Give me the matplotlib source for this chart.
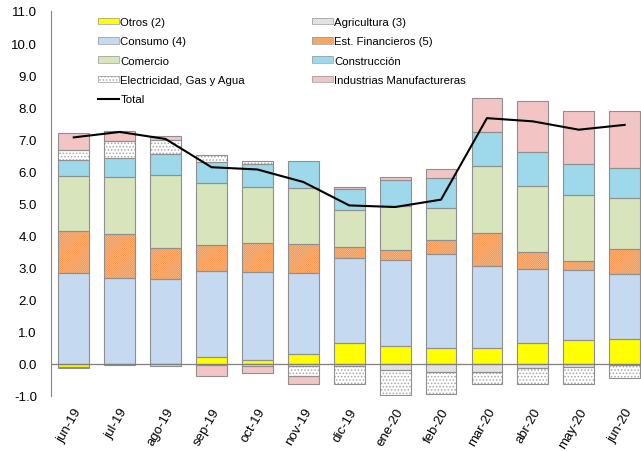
import numpy as np
import matplotlib.pyplot as plt
from matplotlib.patches import Patch
from matplotlib.lines import Line2D

plt.rcParams['font.family'] = ['Liberation Sans', 'DejaVu Sans']
plt.rcParams['axes.unicode_minus'] = False
plt.rcParams['hatch.linewidth'] = 0.7

meses = ['jun-19', 'jul-19', 'ago-19', 'sep-19', 'oct-19', 'nov-19', 'dic-19',
         'ene-20', 'feb-20', 'mar-20', 'abr-20', 'may-20', 'jun-20']

# contribuciones por sector (puntos porcentuales)
otros = [-0.10, -0.03, 0.00, 0.21, 0.12, 0.30, 0.64, 0.57, 0.51, 0.51, 0.64, 0.75, 0.78]
agricultura = [-0.03, 0.00, -0.07, -0.02, -0.07, -0.08, -0.07, -0.20, -0.24, -0.24, -0.12, -0.10, -0.02]
consumo = [2.82, 2.69, 2.66, 2.69, 2.73, 2.52, 2.66, 2.67, 2.91, 2.54, 2.31, 2.17, 2.01]
est_financieros = [1.32, 1.35, 0.96, 0.81, 0.91, 0.91, 0.35, 0.31, 0.44, 1.04, 0.54, 0.30, 0.80]
comercio = [1.71, 1.79, 2.26, 1.93, 1.76, 1.76, 1.16, 1.37, 1.01, 2.09, 2.07, 2.06, 1.57]
construccion = [0.52, 0.59, 0.67, 0.65, 0.72, 0.82, 0.65, 0.80, 0.93, 1.05, 1.03, 0.95, 0.95]
electricidad = [0.31, 0.54, 0.44, 0.21, 0.07, -0.30, -0.55, -0.78, -0.69, -0.40, -0.50, -0.52, -0.42]
industrias = [0.52, 0.31, 0.10, -0.36, -0.22, -0.26, 0.06, 0.11, 0.26, 1.05, 1.59, 1.66, 1.76]
total = [7.06, 7.23, 7.01, 6.13, 6.06, 5.67, 4.94, 4.89, 5.12, 7.66, 7.56, 7.30, 7.45]

series = [
    ('Otros (2)', otros, '#FFFF00', None, '#FFFF00'),
    ('Agricultura (3)', agricultura, '#F4F4F4', '/' * 14, '#D6D6D6'),
    ('Consumo (4)', consumo, '#C5D9F1', None, '#C5D9F1'),
    ('Est. Financieros (5)', est_financieros, '#FCCDA4', '/' * 16, '#F4924A'),
    ('Comercio', comercio, '#D7E4BC', None, '#D7E4BC'),
    ('Construcción', construccion, '#9DD9EA', None, '#9DD9EA'),
    ('Electricidad, Gas y Agua', electricidad, '#FFFFFF', '.' * 5, '#A8A8A8'),
    ('Industrias Manufactureras', industrias, '#F2C4C4', None, '#F2C4C4'),
]

fig = plt.figure(figsize=(6.41, 4.52), dpi=100)
ax = fig.add_axes([0.0793, 0.1217, 0.931, 0.8518])

x = np.arange(len(meses))
w = 0.67
pos_base = np.zeros(len(meses))
neg_base = np.zeros(len(meses))
handles = {}
for name, vals, fc, hatch, hc in series:
    v = np.array(vals)
    bottom = np.where(v >= 0, pos_base, neg_base)
    ax.bar(x, v, w, bottom=bottom, color=fc, hatch=hatch, edgecolor=hc, linewidth=0, zorder=2)
    ax.bar(x, v, w, bottom=bottom, fill=False, edgecolor='#8F8F8F', linewidth=0.8, zorder=3)
    pos_base = pos_base + np.where(v > 0, v, 0)
    neg_base = neg_base + np.where(v < 0, v, 0)
    # legend key: hatched fill plus a thin grey outline on top
    handles[name] = (Patch(facecolor=fc, hatch=hatch, edgecolor=hc, linewidth=0),
                     Patch(fill=False, edgecolor='#9A9A9A', linewidth=0.5))

ax.plot(x, total, color='black', linewidth=1.5, zorder=5)
ax.axhline(0, color='#7F7F7F', linewidth=0.9, zorder=4)

ax.set_xlim(-0.5, len(meses) - 0.5)
ax.set_ylim(-1, 11)
ax.set_yticks(np.arange(-1, 12, 1))
ax.set_yticklabels(['%.1f' % t for t in np.arange(-1, 12, 1)], fontsize=9.5)
ax.set_xticks(x)
ax.set_xticklabels(meses, rotation=60, ha='right', rotation_mode='anchor', fontsize=9.5)
ax.tick_params(axis='both', length=0)
ax.tick_params(axis='x', pad=7)
ax.tick_params(axis='y', pad=10)
for s in ['top', 'right', 'bottom']:
    ax.spines[s].set_visible(False)
ax.spines['left'].set_color('#868686')

order = ['Otros (2)', 'Consumo (4)', 'Comercio', 'Electricidad, Gas y Agua', 'Total',
         'Agricultura (3)', 'Est. Financieros (5)', 'Construcción', 'Industrias Manufactureras']
handles['Total'] = Line2D([0], [0], color='black', linewidth=1.5)
fig.legend([handles[k] for k in order], order, ncol=2, loc='upper left',
           bbox_to_anchor=(98 / 641, 1 - 18 / 452), frameon=False, fontsize=8.2,
           handlelength=1.8, handleheight=0.55, handletextpad=0.15,
           columnspacing=5.9, labelspacing=0.82, borderpad=0, borderaxespad=0)

fig.savefig('out.png', dpi=100)
